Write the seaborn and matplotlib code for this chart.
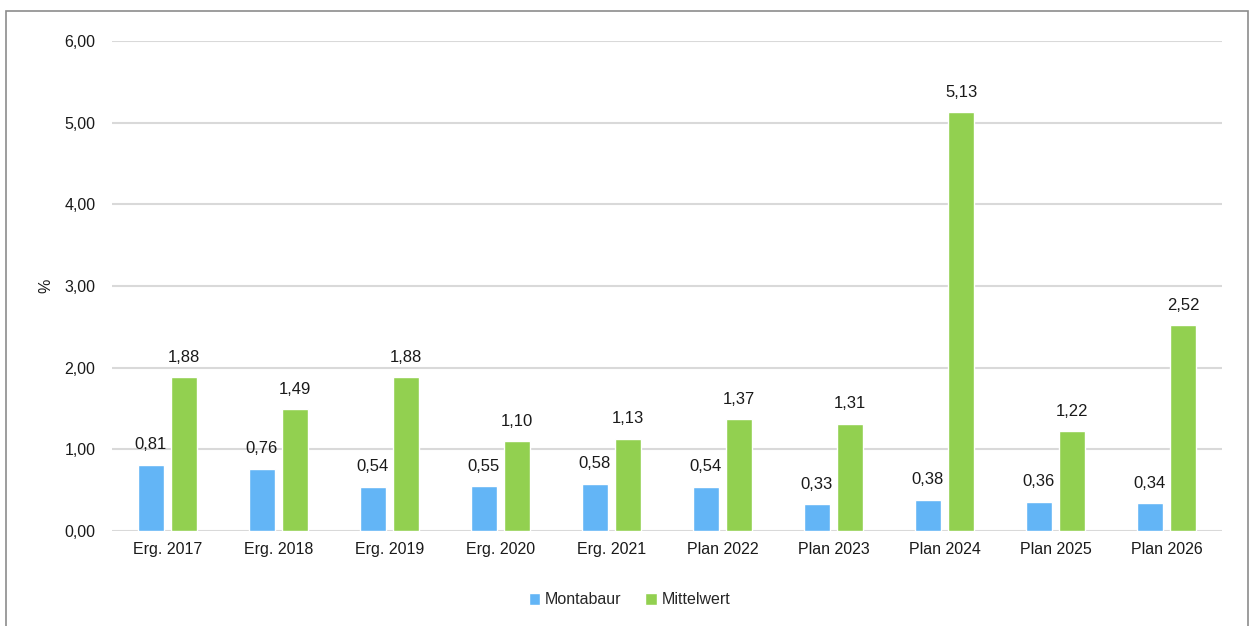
import pandas as pd
import matplotlib.pyplot as plt
import seaborn as sns
from matplotlib.patches import Rectangle

categories = ['Erg. 2017', 'Erg. 2018', 'Erg. 2019', 'Erg. 2020', 'Erg. 2021',
              'Plan 2022', 'Plan 2023', 'Plan 2024', 'Plan 2025', 'Plan 2026']
montabaur = [0.81, 0.76, 0.54, 0.55, 0.58, 0.54, 0.33, 0.38, 0.36, 0.34]
mittelwert = [1.88, 1.49, 1.88, 1.10, 1.13, 1.37, 1.31, 5.13, 1.22, 2.52]
series = ['Montabaur', 'Mittelwert']
colors = ['#63B5F6', '#92D050']

df = pd.DataFrame({
    'Jahr': categories * 2,
    'Wert': montabaur + mittelwert,
    'Reihe': [series[0]] * len(categories) + [series[1]] * len(categories),
})

sns.set_theme(style='white')
plt.rcParams['font.family'] = ['Liberation Sans', 'DejaVu Sans']

fig = plt.figure(figsize=(12.54, 6.26), dpi=100)
ax = fig.add_axes([0.0893, 0.1518, 0.8852, 0.7827])

sns.barplot(data=df, x='Jahr', y='Wert', hue='Reihe', palette=colors,
            width=0.6, gap=0.22, ax=ax, errorbar=None, saturation=1)

for cont in ax.containers:
    ax.bar_label(cont, labels=[f'{v:.2f}'.replace('.', ',') for v in cont.datavalues],
                 padding=9, fontsize=12, color='#1a1a1a')

ax.set_ylim(0, 6)
ax.set_xlim(-0.5, len(categories) - 0.5)
ax.set_yticks([0, 1, 2, 3, 4, 5, 6])
ax.set_yticklabels([f'{t:.2f}'.replace('.', ',') for t in range(7)])
ax.yaxis.grid(True, color='#d9d9d9', linewidth=1.5)
ax.set_axisbelow(True)
for s in ax.spines.values():
    s.set_visible(False)
ax.tick_params(axis='y', length=0, pad=12, labelsize=11.5, labelcolor='#1a1a1a')
ax.tick_params(axis='x', length=0, pad=8, labelsize=11.5, labelcolor='#1a1a1a')
ax.set_xlabel('')
ax.set_ylabel('%', fontsize=11.5, color='#1a1a1a', labelpad=8)

ax.legend(loc='center', bbox_to_anchor=(0.502, 1 - 600 / 626), ncol=2,
          frameon=False, fontsize=11.5, handlelength=0.7, handleheight=0.7,
          handletextpad=0.3, columnspacing=1.5, bbox_transform=fig.transFigure)

fig.patches.append(Rectangle((6 / 1254, -0.05), (1248 - 6) / 1254, 1.05 - 11 / 626,
                             transform=fig.transFigure, fill=False,
                             edgecolor='#8c8c8c', linewidth=1.2))

fig.savefig('out.png', dpi=100)
